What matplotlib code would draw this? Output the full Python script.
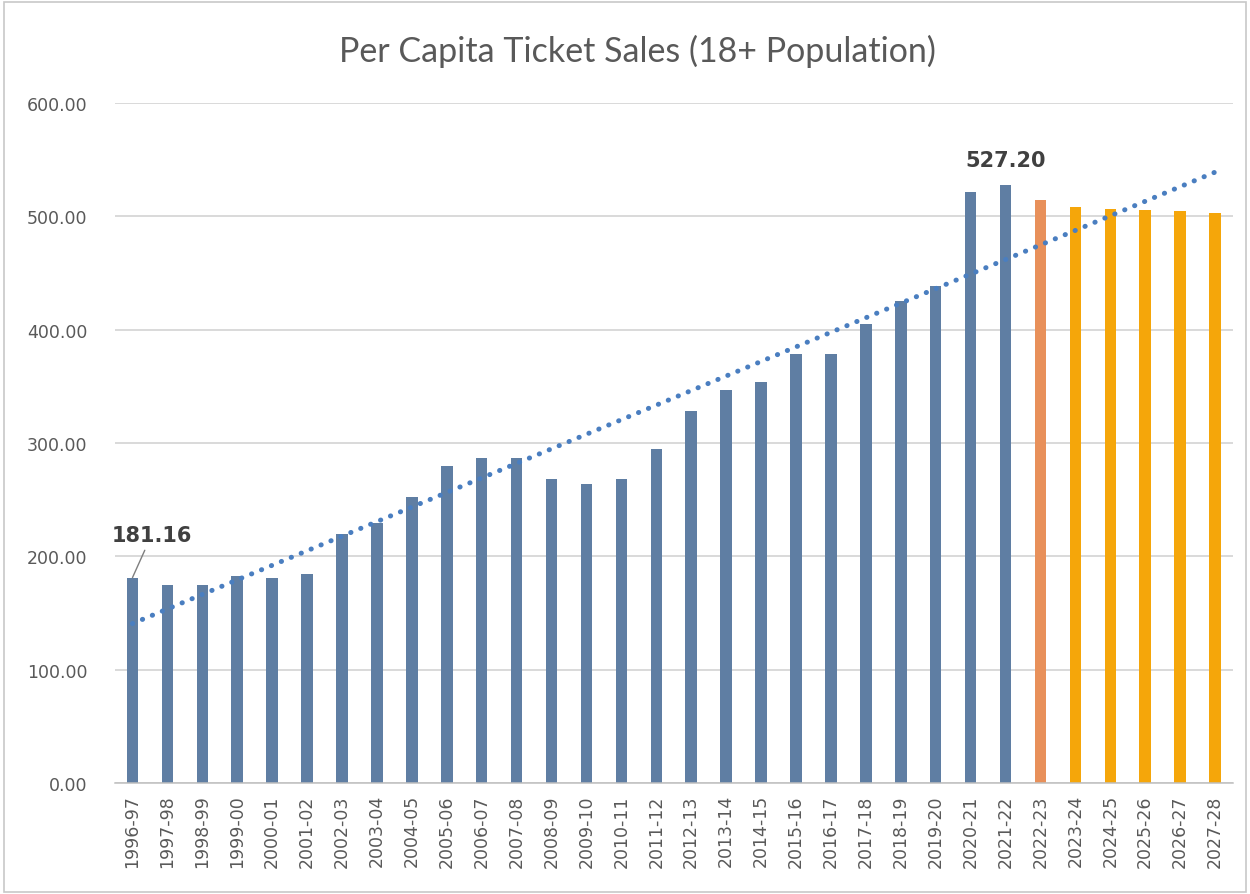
import numpy as np
import matplotlib.pyplot as plt
import matplotlib.patches as patches

seasons = ["1996-97", "1997-98", "1998-99", "1999-00", "2000-01", "2001-02", "2002-03",
           "2003-04", "2004-05", "2005-06", "2006-07", "2007-08", "2008-09", "2009-10",
           "2010-11", "2011-12", "2012-13", "2013-14", "2014-15", "2015-16", "2016-17",
           "2017-18", "2018-19", "2019-20", "2020-21", "2021-22", "2022-23", "2023-24",
           "2024-25", "2025-26", "2026-27", "2027-28"]
actual = [181.16, 175, 175, 183, 181, 184, 220, 229, 252, 280, 287, 287, 268, 264,
          268, 295, 328, 347, 354, 378, 378, 405, 425, 438, 521, 527.20]
estimate = [514]
projected = [508, 506.5, 505.5, 504.5, 503]

values = actual + estimate + projected
x = np.arange(len(seasons))

blue = "#5F7EA3"
salmon = "#E8905A"
amber = "#F5A60A"
colors = [blue] * len(actual) + [salmon] * len(estimate) + [amber] * len(projected)

fig = plt.figure(figsize=(12.5, 8.95), dpi=100)
ax = fig.add_axes([0.092, 0.124, 0.894, 0.760])

ax.bar(x, values, width=0.33, color=colors, zorder=2)

# linear trendline over the whole series
coef = np.polyfit(x, values, 1)
ax.plot(x, np.polyval(coef, x), linestyle=(0, (0.05, 2.1)), linewidth=3.6,
        color="#4A7EC0", dash_capstyle="round", zorder=3)

ax.set_xlim(-0.5, len(seasons) - 0.5)
ax.set_ylim(0, 600)
ax.set_yticks(np.arange(0, 601, 100))
ax.set_yticklabels(["{:.2f}".format(v) for v in np.arange(0, 601, 100)])
ax.set_xticks(x)
ax.set_xticklabels(seasons, rotation=90)
ax.tick_params(axis="both", length=0, labelsize=12.5, colors="#595959")
ax.tick_params(axis="y", pad=20)
ax.tick_params(axis="x", pad=8)
ax.grid(axis="y", color="#D0D0D0", linewidth=1.1, zorder=0)
for s in ["top", "right", "left"]:
    ax.spines[s].set_visible(False)
ax.spines["bottom"].set_color("#BFBFBF")
ax.spines["bottom"].set_linewidth(1.1)

ax.annotate("{:.2f}".format(actual[0]), xy=(x[0], actual[0]), xytext=(x[0] + 0.55, 210),
            ha="center", va="bottom", fontsize=15, fontweight="bold", color="#404040",
            arrowprops=dict(arrowstyle="-", color="#7F7F7F", linewidth=1,
                            shrinkA=2, shrinkB=0))
last = len(actual) - 1
ax.text(x[last], 541, "{:.2f}".format(actual[last]), ha="center", va="bottom",
        fontsize=15, fontweight="bold", color="#404040")

fig.text(0.51, 0.943, "Per Capita Ticket Sales (18+ Population)", ha="center", va="center",
         fontsize=24.5, color="#595959", family="Lato")

fig.add_artist(patches.Rectangle((0.003, 0.002), 0.994, 0.995, transform=fig.transFigure,
                                 fill=False, edgecolor="#C8C8C8", linewidth=1.2))

plt.savefig("out.png", dpi=100)
